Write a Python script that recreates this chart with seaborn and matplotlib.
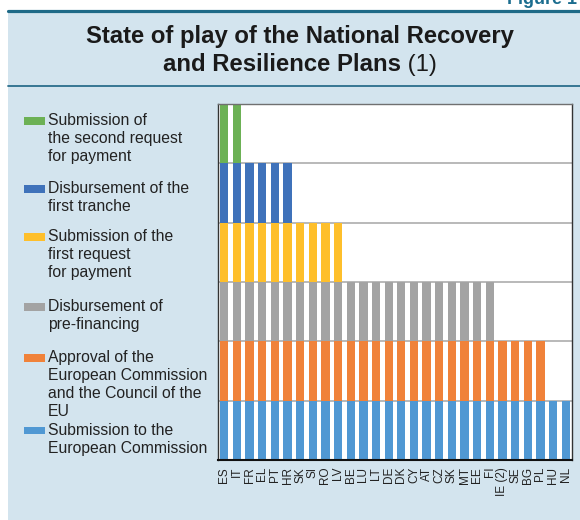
import numpy as np
import pandas as pd
import matplotlib
matplotlib.use("Agg")
import matplotlib.pyplot as plt
from matplotlib.patches import Rectangle
from matplotlib.lines import Line2D
import seaborn as sns

# ==========================
# Data
# ==========================
countries = ["ES", "IT", "FR", "EL", "PT", "HR", "SK", "SI", "RO", "LV",
             "BE", "LU", "LT", "DE", "DK", "CY", "AT", "CZ", "SK", "MT",
             "EE", "FI", "IE (2)", "SE", "BG", "PL", "HU", "NL"]
# number of stages reached by each plan (1 = submitted ... 6 = second request)
stages_reached = [6, 6, 5, 5, 5, 5, 4, 4, 4, 4,
                  3, 3, 3, 3, 3, 3, 3, 3, 3, 3,
                  3, 3, 2, 2, 2, 2, 1, 1]
stage_names = [
    "Submission to the\nEuropean Commission",
    "Approval of the\nEuropean Commission\nand the Council of the\nEU",
    "Disbursement of\npre-financing",
    "Submission of the\nfirst request\nfor payment",
    "Disbursement of the\nfirst tranche",
    "Submission of\nthe second request\nfor payment",
]
stage_colors = ["#5098D3", "#F0823A", "#A3A3A3", "#FEBF2B", "#3F72BA", "#6CB155"]

# ==========================
# Figure
# ==========================
sns.set_theme(style="white")
plt.rcParams["font.family"] = ["Liberation Sans", "DejaVu Sans"]

W, H = 580, 520
fig = plt.figure(figsize=(W / 100, H / 100), dpi=100, facecolor="white")

def fx(px):
    return px / W

def fy(py):
    return 1 - py / H

# panel background and rules
fig.patches.append(Rectangle((fx(8), 0), 1 - fx(8), fy(11), transform=fig.transFigure,
                             facecolor="#D3E4EE", edgecolor="none", zorder=-10))
fig.lines.append(Line2D([fx(8), 1], [fy(11), fy(11)], transform=fig.transFigure,
                        color="#1E6A87", lw=2.3))
fig.lines.append(Line2D([fx(8), 1], [fy(86), fy(86)], transform=fig.transFigure,
                        color="#2A6E8C", lw=1.3))

fig.text(0.995, fy(4), "Figure 1", ha="right", va="baseline", fontsize=13,
         weight="bold", color="#1B6D8F")

fig.text(fx(300), fy(43.5), "State of play of the National Recovery", ha="center",
         va="baseline", fontsize=17.2, weight="bold", color="#1A1A1A")
t_bold = fig.text(fx(282), fy(71), "and Resilience Plans", ha="center",
                  va="baseline", fontsize=17.2, weight="bold", color="#1A1A1A")

# ==========================
# Bars (stacked, one unit per stage)
# ==========================
ax = fig.add_axes([fx(218), fy(460), fx(572) - fx(218), (460 - 104) / H])
ax.set_facecolor("white")

df = pd.DataFrame({"pos": range(len(countries)), "stages": stages_reached})
order = list(range(len(countries)))
for k in range(6, 0, -1):
    sub = df[df["stages"] >= k].assign(height=k)
    sns.barplot(data=sub, x="pos", y="height", order=order,
                color=stage_colors[k - 1], saturation=1, width=0.66,
                errorbar=None, linewidth=0, ax=ax)

ax.set_xlim(-0.5, len(countries) - 0.5)
ax.set_ylim(0, 6)
ax.set_yticks(range(0, 7))
ax.set_yticklabels([])
ax.set_axisbelow(True)
ax.yaxis.grid(True, color="#A6A6A6", lw=1.1)
ax.set_xticks(order)
ax.set_xticklabels(countries, rotation=90, fontsize=8.5, color="#222222")
ax.tick_params(axis="both", length=0, pad=5)
ax.set_xlabel("")
ax.set_ylabel("")
ax.spines["left"].set_color("#333333")
ax.spines["left"].set_linewidth(1.0)
ax.spines["bottom"].set_color("#111111")
ax.spines["bottom"].set_linewidth(1.5)
ax.spines["top"].set_color("#707070")
ax.spines["top"].set_linewidth(1.0)
ax.spines["right"].set_color("#333333")
ax.spines["right"].set_linewidth(1.0)

# ==========================
# Legend (top = last stage)
# ==========================
text_tops = [422.7, 350, 299, 229.3, 181, 113.3]
for name, color, top in zip(stage_names, stage_colors, text_tops):
    fig.patches.append(Rectangle((fx(24), fy(top + 11.5)), fx(45) - fx(24), 7.5 / H,
                                 transform=fig.transFigure, facecolor=color,
                                 edgecolor="none"))
    fig.text(fx(48), fy(top), name, ha="left", va="top", fontsize=11.3,
             linespacing=1.25, color="#222222")

# "(1)" right after the bold part of line 2
fig.canvas.draw()
bb = t_bold.get_window_extent()
fig.text(bb.x1 / W, fy(71), " (1)", ha="left", va="baseline", fontsize=17.2,
         color="#1A1A1A")

fig.savefig("out.png", dpi=100)
